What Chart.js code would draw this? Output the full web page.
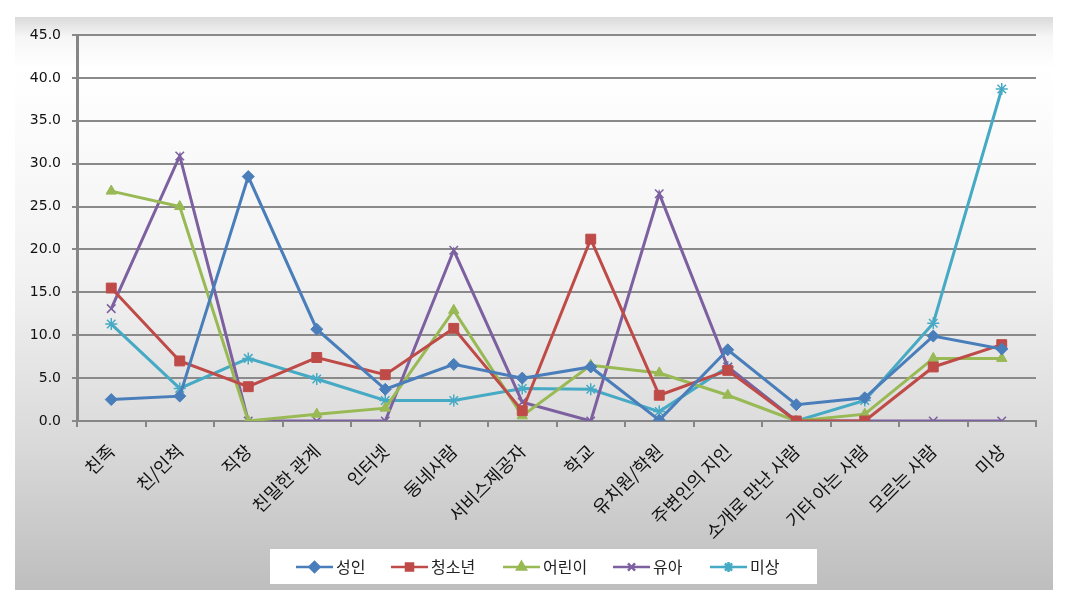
<!DOCTYPE html>
<html>
<head>
<meta charset="utf-8">
<script src="https://cdn.jsdelivr.net/npm/chart.js@4"></script>
<style>
  html, body { margin: 0; padding: 0; background: #fff; }
  #wrap { width: 1069px; height: 603px; position: relative; }
</style>
</head>
<body>
<div id="wrap"><canvas id="lineChart" width="1069" height="603"></canvas></div>
<script>
const labels = ['친족', '친/인척', '직장', '친밀한 관계', '인터넷', '동네사람', '서비스제공자', '학교', '유치원/학원', '주변인의 지인', '소개로 만난 사람', '기타 아는 사람', '모르는 사람', '미상'];

const adult = [2.5, 2.9, 28.5, 10.7, 3.7, 6.6, 5.0, 6.3, 0.1, 8.3, 1.9, 2.7, 9.9, 8.4];
const youth = [15.5, 7.0, 4.0, 7.4, 5.4, 10.8, 1.2, 21.2, 3.0, 5.9, 0, 0, 6.3, 8.9];
const child = [26.8, 25.0, 0, 0.8, 1.5, 12.9, 0.6, 6.5, 5.6, 3.0, 0, 0.8, 7.3, 7.3];
const infant = [13.1, 30.9, 0, 0, 0, 19.9, 2.2, 0, 26.5, 6.3, 0, 0, 0, 0];
const unknown = [11.3, 3.8, 7.3, 4.9, 2.4, 2.4, 3.8, 3.7, 1.1, 6.3, 0, 2.4, 11.4, 38.7];

const seriesNames = ['성인', '청소년', '어린이', '유아', '미상'];
const colors = ['#4a7ebb', '#be4b48', '#98b954', '#7d60a0', '#46aac5'];
const markers = ['rectRot', 'rect', 'triangle', 'crossRot', 'star'];
const markerSize = [6, 7, 6, 6, 6];

const yTicks = [0, 5, 10, 15, 20, 25, 30, 35, 40, 45];

const makeSet = (i, values) => ({
  label: seriesNames[i],
  data: values,
  borderColor: colors[i],
  backgroundColor: colors[i],
  borderWidth: 3,
  tension: 0,
  pointStyle: markers[i],
  pointRadius: markerSize[i],
  pointBackgroundColor: colors[i],
  pointBorderColor: colors[i],
  pointBorderWidth: (markers[i] === 'crossRot' || markers[i] === 'star') ? 1.5 : 1
});

// grey panel behind the chart + legend box
const panel = {
  id: 'panel',
  beforeDraw(chart) {
    const ctx = chart.ctx;
    ctx.save();
    const g = ctx.createLinearGradient(0, 17, 0, 590);
    g.addColorStop(0, '#dadada');
    g.addColorStop(0.035, '#f6f6f6');
    g.addColorStop(0.09, '#ffffff');
    g.addColorStop(0.45, '#f2f2f2');
    g.addColorStop(0.75, '#d9d9d9');
    g.addColorStop(1, '#bebebe');
    ctx.fillStyle = g;
    ctx.fillRect(15, 17, 1038, 573);
    ctx.restore();
  },
  afterDraw(chart) {
    const ctx = chart.ctx;
    ctx.save();
    ctx.fillStyle = '#ffffff';
    ctx.fillRect(270, 549, 547, 35);
    const lineStarts = [296, 391, 503, 613, 710];
    const cy = 567;
    ctx.font = '16px "Noto Sans CJK KR"';
    ctx.textBaseline = 'middle';
    seriesNames.forEach((name, i) => {
      const x0 = lineStarts[i];
      ctx.strokeStyle = colors[i];
      ctx.lineWidth = 2.5;
      ctx.beginPath();
      ctx.moveTo(x0, cy);
      ctx.lineTo(x0 + 37, cy);
      ctx.stroke();
      ctx.fillStyle = colors[i];
      Chart.helpers.drawPoint(ctx, { pointStyle: markers[i], radius: 5, borderWidth: 1.5, rotation: 0 }, x0 + 18.5, cy);
      ctx.fillStyle = '#222';
      ctx.fillText(name, x0 + 40, cy);
    });
    ctx.restore();
  }
};

const config = {
  type: 'line',
  data: {
    labels: labels,
    datasets: [
      makeSet(0, adult),
      makeSet(1, youth),
      makeSet(2, child),
      makeSet(3, infant),
      makeSet(4, unknown)
    ]
  },
  options: {
    responsive: false,
    animation: false,
    layout: { padding: { left: 0, top: 35, right: 33, bottom: 0 } },
    plugins: { legend: { display: false }, tooltip: { enabled: false } },
    scales: {
      x: {
        offset: true,
        afterFit(scale) { scale.height = 182; },
        grid: { display: true, offset: true, drawOnChartArea: false, drawTicks: true, tickLength: 6, color: '#868686', lineWidth: 2 },
        border: { display: true, color: '#868686', width: 2 },
        ticks: {
          autoSkip: false,
          maxRotation: 45,
          minRotation: 45,
          padding: 13,
          color: '#111',
          font: { family: '"Noto Sans CJK KR"', size: 18 }
        }
      },
      y: {
        min: 0,
        max: 45,
        afterFit(scale) { scale.width = 77; },
        afterBuildTicks(scale) { scale.ticks = yTicks.map(v => ({ value: v })); },
        grid: { color: '#8a8a8a', lineWidth: 2, drawTicks: true, tickLength: 5 },
        border: { display: true, color: '#868686', width: 3 },
        ticks: {
          padding: 11,
          color: '#111',
          font: { family: '"DejaVu Sans"', size: 14 },
          callback: v => Number(v).toFixed(1)
        }
      }
    }
  },
  plugins: [panel]
};

const lineChart = new Chart(document.getElementById('lineChart'), config);
</script>
</body>
</html>
